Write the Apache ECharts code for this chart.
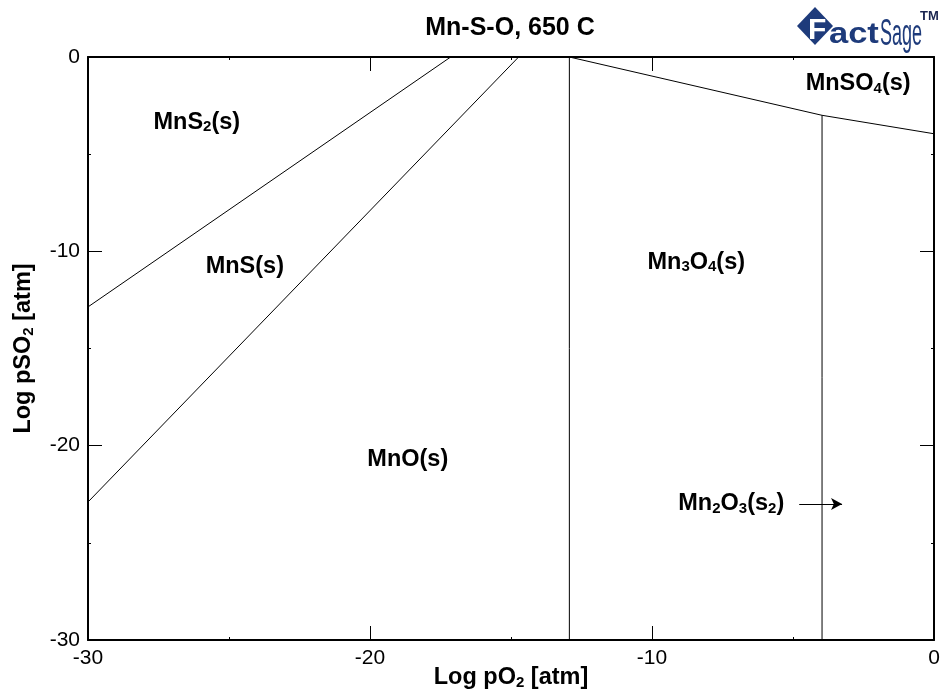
<!DOCTYPE html>
<html>
<head>
<meta charset="utf-8">
<title>Mn-S-O, 650 C</title>
<script src="https://cdn.jsdelivr.net/npm/echarts@6/dist/echarts.min.js"></script>
<style>
  html, body { margin: 0; padding: 0; background: #fff; }
  #chart { width: 941px; height: 695px; }
</style>
</head>
<body>
<div id="chart"></div>
<script>
// Predominance-area diagram, Mn-S-O system at 650 C
const FONT = "'Liberation Sans', Arial, Helvetica, sans-serif";

const xRange = [-30, 0];        // log pO2
const yRange = [-30, 0];        // log pSO2
const tickStep = 10;

// Phase boundaries [log pO2, log pSO2]
const mnS2_mnS = [[-30, -12.86], [-17.14, 0]];
const mnS_mnO = [[-30, -22.9], [-14.73, 0]];
const mnO_mn3O4 = [[-12.93, 0], [-12.93, -30]];
const mnSO4_oxides = [[-12.93, 0], [-3.97, -3.0], [0, -3.95]];
const mn3O4_mn2O3 = [[-3.97, -3.0], [-3.97, -30]];

// Region labels (rich-text markup) and their positions
const regionLabels = [
  { text: '{b|MnS}{s|2}{b|(s)}', at: [-26.14, -3.35] },
  { text: '{b|MnS(s)}', at: [-24.44, -10.76] },
  { text: '{b|Mn}{s|3}{b|O}{s|4}{b|(s)}', at: [-8.43, -10.55] },
  { text: '{b|MnO(s)}', at: [-18.66, -20.69] },
  { text: '{b|MnSO}{s|4}{b|(s)}', at: [-2.69, -1.39] },
  { text: '{b|Mn}{s|2}{b|O}{s|3}{b|(s}{s|2}{b|)}', at: [-7.19, -23.0] }
];
// Pointer from the Mn2O3 label into its narrow field
const mn2O3Arrow = [[-4.78, -23.0], [-3.26, -23.0]];

const boundaries = [mnS2_mnS, mnS_mnO, mnO_mn3O4, mnSO4_oxides, mn3O4_mn2O3];

const rich = {
  b: { fontFamily: FONT, fontSize: 23.5, fontWeight: 'bold', color: '#000', lineHeight: 24, verticalAlign: 'top' },
  s: { fontFamily: FONT, fontSize: 15, fontWeight: 'bold', color: '#000', lineHeight: 10, verticalAlign: 'bottom' }
};

function axisPair(isX, pos, showLabel) {
  return {
    type: 'value',
    position: pos,
    min: isX ? xRange[0] : yRange[0],
    max: isX ? xRange[1] : yRange[1],
    interval: tickStep,
    axisLine: { show: true, onZero: false, lineStyle: { color: '#000', width: 2 } },
    axisTick: { show: true, inside: true, length: 14, lineStyle: { color: '#000', width: 1 } },
    minorTick: { show: true, splitNumber: 2, length: 3, lineStyle: { color: '#000', width: 1 } },
    splitLine: { show: false },
    minorSplitLine: { show: false },
    axisLabel: { show: showLabel, color: '#000', fontFamily: FONT, fontSize: 21, margin: 8 }
  };
}

const xBottom = Object.assign(axisPair(true, 'bottom', true), {
  name: '{b|Log pO}{s|2}{b| [atm]}',
  nameLocation: 'middle',
  nameGap: 26,
  nameMoveOverlap: false,
  nameTextStyle: { rich: rich }
});
const yLeft = Object.assign(axisPair(false, 'left', true), {
  name: '{b|Log pSO}{s|2}{b| [atm]}',
  nameLocation: 'middle',
  nameGap: 52,
  nameTextStyle: { rich: rich }
});

const series = boundaries.map(function (pts) {
  return {
    type: 'line',
    data: pts,
    showSymbol: false,
    symbol: 'none',
    silent: true,
    animation: false,
    lineStyle: { color: '#000', width: 1 }
  };
});

series.push({
  type: 'scatter',
  symbolSize: 0,
  silent: true,
  animation: false,
  itemStyle: { opacity: 1, color: '#000' },
  data: regionLabels.map(function (d) { return { value: d.at, name: d.text }; }),
  label: {
    show: true,
    position: 'inside',
    color: '#000',
    opacity: 1,
    formatter: function (p) { return p.name; },
    rich: rich
  },
  markLine: {
    silent: true,
    animation: false,
    symbol: ['none', 'arrow'],
    symbolSize: [9, 11],
    label: { show: false },
    lineStyle: { color: '#000', width: 1, type: 'solid', opacity: 1 },
    data: [[{ coord: mn2O3Arrow[0] }, { coord: mn2O3Arrow[1] }]]
  }
});

const LOGO = '#1e3b7b';

const chart = echarts.init(document.getElementById('chart'), null, { renderer: 'canvas' });
chart.setOption({
  backgroundColor: '#fff',
  animation: false,
  title: {
    text: 'Mn-S-O, 650 C',
    left: 505,
    top: 11,
    textAlign: 'center',
    textStyle: { fontFamily: FONT, fontSize: 25, fontWeight: 'bold', color: '#000' }
  },
  grid: { left: 88, right: 7, top: 57, bottom: 55, containLabel: false, outerBoundsMode: 'none' },
  xAxis: [xBottom, axisPair(true, 'top', false)],
  yAxis: [yLeft, axisPair(false, 'right', false)],
  series: series,
  graphic: [
    {
      type: 'group',
      left: 797,
      top: 7,
      children: [
        { type: 'polygon', shape: { points: [[18, 0], [36, 19], [18, 38], [0, 19]] }, style: { fill: LOGO } },
        { type: 'text', x: 11, y: 9, style: { text: 'F', fill: '#fff', font: 'bold 30px ' + FONT, stroke: LOGO, lineWidth: 0.5 } },
        { type: 'text', x: 32, y: 13, scaleX: 1.15, style: { text: 'act', fill: LOGO, font: 'bold 30px ' + FONT } },
        { type: 'text', x: 83, y: 10, scaleX: 0.5, style: { text: 'Sage', fill: LOGO, font: '36px ' + FONT } },
        { type: 'text', x: 123, y: 3, style: { text: 'TM', fill: '#1a2550', font: 'bold 13px ' + FONT } }
      ]
    }
  ]
});
</script>
</body>
</html>
